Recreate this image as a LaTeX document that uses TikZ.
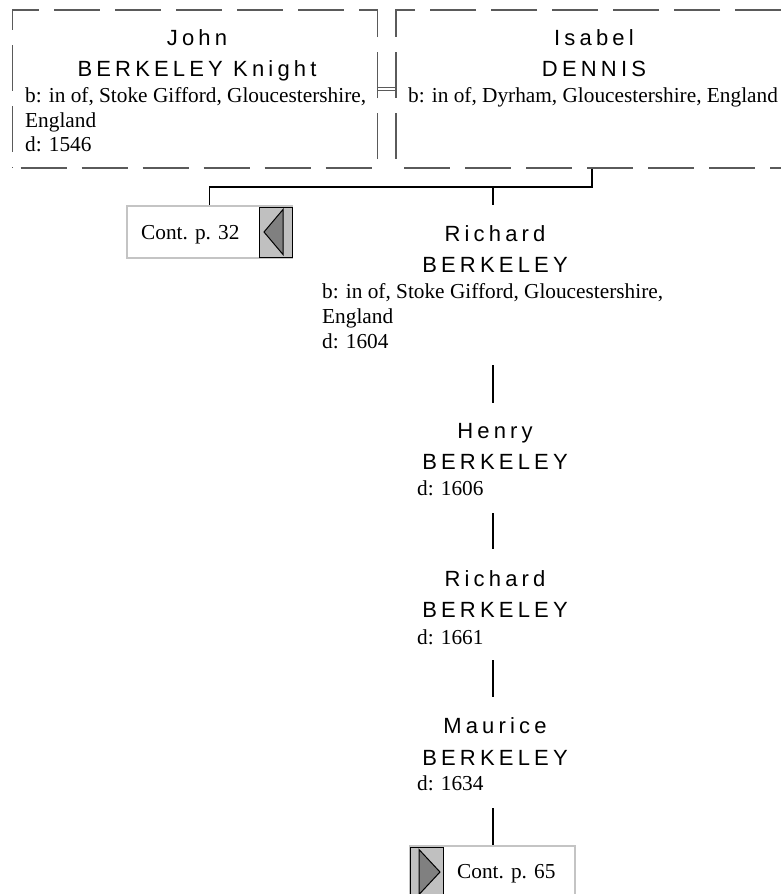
\documentclass[tikz,border=0pt]{standalone}
\usepackage{fontspec}
\setmainfont{Liberation Serif}
\newfontfamily\namefamily[LetterSpace=19]{Liberation Sans}
\definecolor{boxgray}{HTML}{5A5A5A}
\definecolor{contgray}{HTML}{C4C4C4}
\definecolor{arrowfill}{HTML}{C0C0C0}
\definecolor{trifill}{HTML}{808080}
\begin{document}
\begin{tikzpicture}[x=1pt,y=-1pt,
  namestyle/.style={anchor=base, inner sep=0, font=\namefamily\fontsize{22}{26}\selectfont},
  infostyle/.style={anchor=base west, inner sep=0, font=\fontsize{21.3}{25}\selectfont},
  dashbox/.style={draw=boxgray, line width=1.1pt, dash pattern=on 46pt off 15pt, dash phase=-8pt, rectangle, inner sep=0},
  famline/.style={draw=black, line width=1.3pt},
  marriage/.style={draw=boxgray, line width=0.9pt, double, double distance=2.6pt},
  contbox/.style={draw=contgray, line width=1.6pt, rectangle, inner sep=0, fill=white},
  arrowbox/.style={draw=black, line width=1pt, fill=arrowfill, rectangle, inner sep=0},
  tri/.style={draw=black, line width=1pt, fill=trifill, line join=miter}
]
\useasboundingbox (0,0) rectangle (780,894);

% couple boxes
\node[dashbox, minimum width=365pt, minimum height=158pt] (johnbox) at (195,89) {};
\node[dashbox, minimum width=392pt, minimum height=158pt] (isabelbox) at (592,89) {};
\draw[marriage] (johnbox.east) -- (isabelbox.west);

% John
\node[namestyle] (john1) at (197,45) {John};
\node[namestyle] (john2) at (197,76) {BERKELEY Knight};
\node[infostyle] (john3) at (25,102) {b: in of, Stoke Gifford, Gloucestershire,};
\node[infostyle] (john4) at (25,127) {England};
\node[infostyle] (john5) at (25,151) {d: 1546};

% Isabel
\node[namestyle] (isa1) at (594,45) {Isabel};
\node[namestyle] (isa2) at (594,76) {DENNIS};
\node[infostyle] (isa3) at (408,102) {b: in of, Dyrham, Gloucestershire, England};

% Cont. p. 32
\node[contbox, minimum width=165pt, minimum height=52pt] (cont32) at (209.5,232) {};
\node[arrowbox, minimum width=33pt, minimum height=50pt] (arr32) at (275.5,232) {};
\draw[tri] (264,232) -- (283,209.5) -- (283,254.5) -- cycle;
\node[infostyle] (cont32t) at (141,239) {Cont. p. 32};

% descent lines from couple
\coordinate (bar) at (592,187);
\coordinate (richtop) at (493,205);
\draw[famline] (isabelbox.south) -- (bar) -| (cont32.north);
\draw[famline] (richtop |- bar) -- (richtop);

% Richard
\node[namestyle] (rich1) at (495,241) {Richard};
\node[namestyle] (rich2) at (495,272) {BERKELEY};
\node[infostyle] (rich3) at (322,298) {b: in of, Stoke Gifford, Gloucestershire,};
\node[infostyle] (rich4) at (322,323) {England};
\node[infostyle] (rich5) at (322,348) {d: 1604};

\coordinate (l1a) at (493,365);
\coordinate (l1b) at (493,403);
\draw[famline] (l1a) -- (l1b);

% Henry
\node[namestyle] (hen1) at (495,438) {Henry};
\node[namestyle] (hen2) at (495,469) {BERKELEY};
\node[infostyle] (hen3) at (417,495) {d: 1606};

\coordinate (l2a) at (493,513);
\coordinate (l2b) at (493,549);
\draw[famline] (l2a) -- (l2b);

% Richard (2)
\node[namestyle] (ricb1) at (495,586) {Richard};
\node[namestyle] (ricb2) at (495,617) {BERKELEY};
\node[infostyle] (ricb3) at (417,644) {d: 1661};

\coordinate (l3a) at (493,660);
\coordinate (l3b) at (493,697);
\draw[famline] (l3a) -- (l3b);

% Maurice
\node[namestyle] (mau1) at (495,733) {Maurice};
\node[namestyle] (mau2) at (495,765) {BERKELEY};
\node[infostyle] (mau3) at (417,790) {d: 1634};

% Cont. p. 65
\node[contbox, minimum width=165pt, minimum height=52pt] (cont65) at (492.5,872) {};
\node[arrowbox, minimum width=33pt, minimum height=50pt] (arr65) at (426.5,872) {};
\draw[tri] (440,872) -- (419,849.5) -- (419,894.5) -- cycle;
\node[infostyle] (cont65t) at (457,878) {Cont. p. 65};

\coordinate (l4a) at (493,808);
\draw[famline] (l4a) -- (l4a |- cont65.north);
\end{tikzpicture}
\end{document}
